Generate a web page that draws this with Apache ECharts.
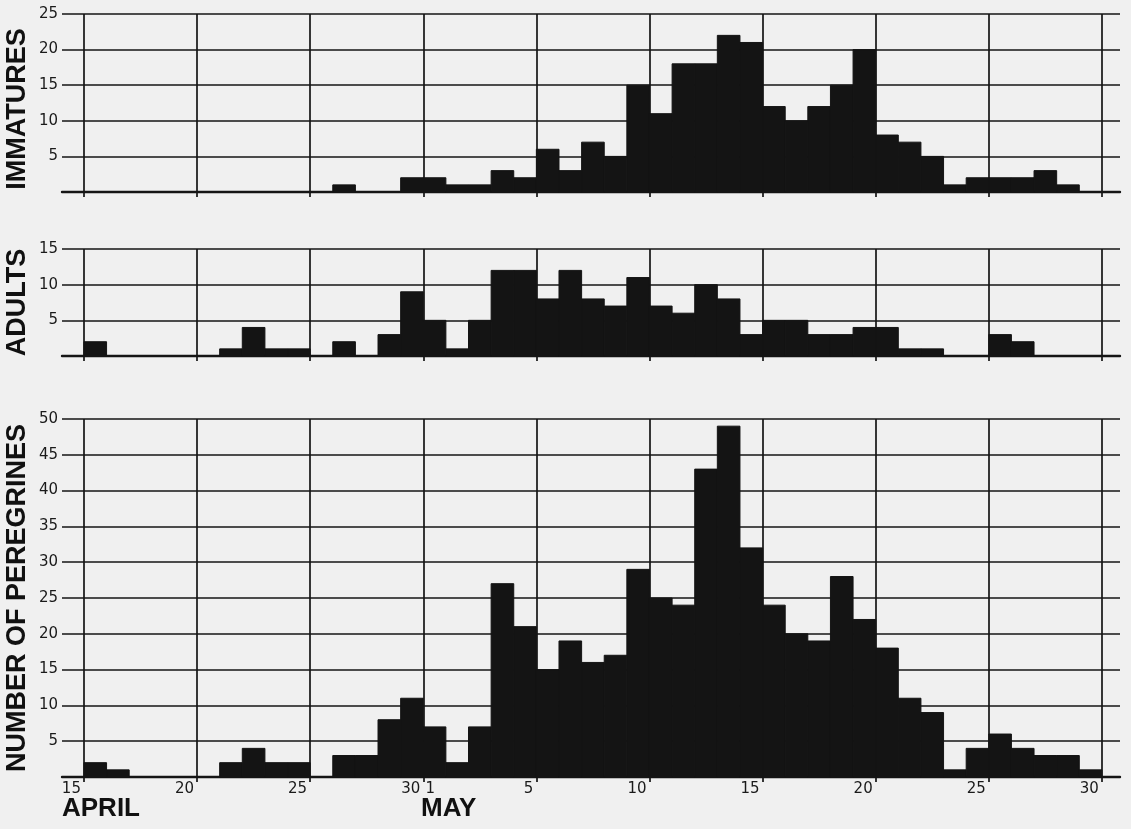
<!DOCTYPE html>
<html>
<head>
<meta charset="utf-8">
<script src="https://cdn.jsdelivr.net/npm/echarts@6/dist/echarts.min.js"></script>
<style>
html,body{margin:0;padding:0;background:#f0f0f0;}
#chart{width:1131px;height:829px;}
</style>
</head>
<body>
<div id="chart"></div>
<script>
// Days: index 0 = April 15 ... index 44 = May 29 (each bar spans one day)
const dayOfMonth = [15,16,17,18,19,20,21,22,23,24,25,26,27,28,29,30,
                    1,2,3,4,5,6,7,8,9,10,11,12,13,14,15,16,17,18,19,20,21,22,23,24,25,26,27,28,29];
const immatures = [0,0,0,0,0, 0,0,0,0,0, 0,1,0,0,2, 2,1,1,3,2, 6,3,7,5,15, 11,18,18,22,21, 12,10,12,15,20, 8,7,5,1,2, 2,2,3,1,0];
const adults    = [2,0,0,0,0, 0,1,4,1,1, 0,2,0,3,9, 5,1,5,12,12, 8,12,8,7,11, 7,6,10,8,3, 5,5,3,3,4, 4,1,1,0,0, 3,2,0,0,0];
const total     = [2,1,0,0,0, 0,2,4,2,2, 0,3,3,8,11, 7,2,7,27,21, 15,19,16,17,29, 25,24,43,49,32, 24,20,19,28,22, 18,11,9,1,4, 6,4,3,3,1];

// x tick positions (day offsets from April 15) and their labels
const xTickValues = [0,5,10,15,20,25,30,35,40,45];
const xTickLabels = ['15','20','25','30','5','10','15','20','25','30'];
const xExtraLabelValue = 15.65;   // the "1" (May 1) printed next to "30"
const xExtraLabel = '1';

const panelTitles = ['IMMATURES','ADULTS','NUMBER OF PEREGRINES'];
const panelMax = [25, 15, 50];
const monthLabels = ['APRIL','MAY'];

const INK = '#141414';
const LINE = '#151515';

const grids = [
  {left:62, right:11, top:14, height:178},
  {left:62, right:11, top:249, height:107},
  {left:62, right:11, top:419, height:358}
];

const labelMap = {};
xTickValues.forEach((v,i)=>{ labelMap[v] = xTickLabels[i]; });
labelMap[xExtraLabelValue] = xExtraLabel;

function xAxisFor(i, showLabels){
  return {
    type:'value', gridIndex:i, min:-0.97, max:45.8,
    axisLine:{show:true, onZero:false, lineStyle:{color:LINE, width:2.4}},
    axisTick:{show:true, customValues:xTickValues, length:5, lineStyle:{color:LINE, width:1.7}},
    splitLine:{show:true, lineStyle:{color:LINE, width:1.7}},
    axisLabel: showLabels ? {
      show:true, customValues: xTickValues.concat([xExtraLabelValue]),
      formatter: v => labelMap[v] !== undefined ? labelMap[v] : '',
      align:'right', padding:[0,3,0,0], margin:5,
      color:'#1a1a1a', fontSize:15, fontFamily:'DejaVu Sans'
    } : {show:false}
  };
}
function yAxisFor(i){
  return {
    type:'value', gridIndex:i, min:0, max:panelMax[i], interval:5,
    axisLine:{show:false}, axisTick:{show:false},
    splitLine:{show:true, lineStyle:{color:LINE, width:1.7}},
    axisLabel:{
      show:true, margin:4, color:'#1a1a1a', fontSize:15, fontFamily:'DejaVu Sans',
      formatter: v => v === 0 ? '' : String(v)
    }
  };
}
function renderItem(params, api){
  const d = api.value(0), v = api.value(1);
  if (!v) return null;
  const p0 = api.coord([d, 0]);
  const p1 = api.coord([d + 1, v]);
  return {
    type:'rect',
    shape:{x:p0[0], y:p1[1], width:p1[0]-p0[0], height:p0[1]-p1[1]},
    style:{fill:INK, stroke:INK, lineWidth:1}
  };
}
function seriesFor(i, values){
  return {
    type:'custom', xAxisIndex:i, yAxisIndex:i,
    renderItem: renderItem,
    data: values.map((v, k) => [k, v]),
    encode:{x:0, y:1},
    silent:true
  };
}

const titleFont = 'bold 27px "Liberation Sans"';
const monthFont = 'bold 26px "Liberation Sans"';
const graphics = [
  {type:'text', x:18, y:grids[0].top + grids[0].height/2 + 6, rotation:Math.PI/2,
   style:{text:panelTitles[0], font:titleFont, fill:'#111', textAlign:'center', textVerticalAlign:'middle'}},
  {type:'text', x:18, y:grids[1].top + grids[1].height/2, rotation:Math.PI/2,
   style:{text:panelTitles[1], font:titleFont, fill:'#111', textAlign:'center', textVerticalAlign:'middle'}},
  {type:'text', x:18, y:grids[2].top + grids[2].height/2, rotation:Math.PI/2,
   style:{text:panelTitles[2], font:titleFont, fill:'#111', textAlign:'center', textVerticalAlign:'middle'}},
  {type:'text', x:62, y:809,
   style:{text:monthLabels[0], font:monthFont, fill:'#111', textAlign:'left', textVerticalAlign:'middle'}},
  {type:'text', x:421, y:809,
   style:{text:monthLabels[1], font:monthFont, fill:'#111', textAlign:'left', textVerticalAlign:'middle'}}
];

const chart = echarts.init(document.getElementById('chart'), null, {renderer:'canvas'});
chart.setOption({
  backgroundColor:'#f0f0f0',
  animation:false,
  grid: grids,
  xAxis:[xAxisFor(0,false), xAxisFor(1,false), xAxisFor(2,true)],
  yAxis:[yAxisFor(0), yAxisFor(1), yAxisFor(2)],
  series:[seriesFor(0, immatures), seriesFor(1, adults), seriesFor(2, total)],
  graphic: graphics
});
</script>
</body>
</html>
